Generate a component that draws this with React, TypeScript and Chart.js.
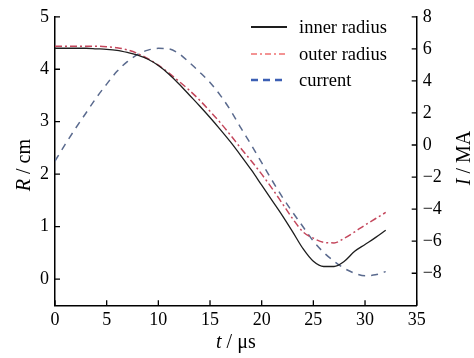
import React, { useEffect, useRef } from 'react';
import { Chart, registerables } from 'chart.js';

Chart.register(...registerables);

const timeUs = [0, 1, 2, 3, 4, 5, 6, 7, 8, 9, 10, 11, 12, 13, 14, 15, 16, 17, 18, 19, 20, 21, 22, 23, 24, 25, 26, 27, 28, 29, 30, 31, 32];
const innerRadius = [4.40, 4.40, 4.40, 4.40, 4.39, 4.38, 4.36, 4.32, 4.27, 4.19, 4.07, 3.91, 3.72, 3.51, 3.30, 3.08, 2.85, 2.61, 2.35, 2.08, 1.79, 1.50, 1.21, 0.90, 0.58, 0.34, 0.24, 0.24, 0.34, 0.53, 0.66, 0.79, 0.93];
const outerRadius = [4.44, 4.44, 4.44, 4.44, 4.44, 4.43, 4.41, 4.37, 4.30, 4.20, 4.08, 3.93, 3.77, 3.60, 3.41, 3.20, 2.98, 2.74, 2.49, 2.25, 2.00, 1.73, 1.44, 1.15, 0.90, 0.78, 0.70, 0.69, 0.78, 0.90, 1.03, 1.15, 1.27];
const currentMA = [-1.0, 0.05, 1.05, 2.0, 2.95, 3.8, 4.6, 5.2, 5.65, 5.92, 6.03, 6.0, 5.7, 5.15, 4.55, 3.9, 3.1, 2.15, 1.05, 0.0, -1.1, -2.2, -3.25, -4.2, -5.1, -6.0, -6.7, -7.25, -7.7, -8.0, -8.15, -8.1, -7.9];

const xTicks = [0, 5, 10, 15, 20, 25, 30, 35];
const rTicks = [0, 1, 2, 3, 4, 5];
const iTicks = [-8, -6, -4, -2, 0, 2, 4, 6, 8];
const legendLabels = ['inner radius', 'outer radius', 'current'];

const FONT = '"Liberation Serif", "Times New Roman", serif';
const FS = 18;
const TFS = 20;

function drawMixed(ctx: CanvasRenderingContext2D, parts: [string, boolean][], x: number, y: number) {
  let total = 0;
  const widths = parts.map(([t, it]) => {
    ctx.font = `${it ? 'italic ' : ''}${TFS}px ${FONT}`;
    const w = ctx.measureText(t).width;
    total += w;
    return w;
  });
  let cx = x - total / 2;
  parts.forEach(([t, it], i) => {
    ctx.font = `${it ? 'italic ' : ''}${TFS}px ${FONT}`;
    ctx.fillText(t, cx, y);
    cx += widths[i];
  });
}

const decor = {
  id: 'decor',
  afterDraw(chart: any) {
    const { ctx, chartArea: a, scales } = chart;
    ctx.save();
    ctx.strokeStyle = '#000';
    ctx.lineWidth = 1.3;
    const L = 5;
    ctx.beginPath();
    scales.x.ticks.forEach((t: any) => {
      const px = scales.x.getPixelForValue(t.value);
      ctx.moveTo(px, a.bottom);
      ctx.lineTo(px, a.bottom - L);
    });
    scales.y.ticks.forEach((t: any) => {
      const py = scales.y.getPixelForValue(t.value);
      ctx.moveTo(a.left, py);
      ctx.lineTo(a.left + L, py);
    });
    scales.y1.ticks.forEach((t: any) => {
      const py = scales.y1.getPixelForValue(t.value);
      ctx.moveTo(a.right, py);
      ctx.lineTo(a.right - L, py);
    });
    ctx.stroke();

    // axis titles
    ctx.fillStyle = '#000';
    ctx.textBaseline = 'alphabetic';
    ctx.textAlign = 'left';
    drawMixed(ctx, [['t', true], [' / μs', false]], (a.left + a.right) / 2, a.bottom + 43);
    ctx.save();
    ctx.translate(a.left - 25, (a.top + a.bottom) / 2 + 4);
    ctx.rotate(-Math.PI / 2);
    drawMixed(ctx, [['R', true], [' / cm', false]], 0, 0);
    ctx.restore();
    ctx.save();
    ctx.translate(a.right + 53, (a.top + a.bottom) / 2 - 3);
    ctx.rotate(-Math.PI / 2);
    drawMixed(ctx, [['I', true], [' / MA', false]], 0, 0);
    ctx.restore();

    // legend
    const styles = [
      { color: '#1e1e1e', width: 2.2, dash: [] as number[] },
      { color: '#f07070', width: 1.3, dash: [6, 3, 2, 3] },
      { color: '#3c5fb4', width: 2.6, dash: [7, 5] },
    ];
    const lx0 = 251, lx1 = 287, tx = 299;
    const rows = [27, 54, 80];
    legendLabels.forEach((lab, i) => {
      const s = styles[i];
      ctx.beginPath();
      ctx.strokeStyle = s.color;
      ctx.lineWidth = s.width;
      ctx.setLineDash(s.dash);
      ctx.moveTo(lx0, rows[i]);
      ctx.lineTo(lx1, rows[i]);
      ctx.stroke();
      ctx.setLineDash([]);
      ctx.fillStyle = '#000';
      ctx.font = `18.5px ${FONT}`;
      ctx.textBaseline = 'middle';
      ctx.fillText(lab, tx, rows[i] + 1);
    });
    ctx.restore();
  },
};

export default function App() {
  const ref = useRef<HTMLCanvasElement>(null);
  useEffect(() => {
    if (!ref.current) return;
    const mk = (arr: number[]) => arr.map((v, i) => ({ x: timeUs[i], y: v }));
    const tickFont = { family: FONT, size: FS };
    const chart = new Chart(ref.current, {
      type: 'line',
      data: {
        datasets: [
          {
            label: legendLabels[0],
            data: mk(innerRadius),
            yAxisID: 'y',
            borderColor: '#1e1e1e',
            borderWidth: 1.3,
            pointRadius: 0,
            cubicInterpolationMode: 'monotone',
          },
          {
            label: legendLabels[1],
            data: mk(outerRadius),
            yAxisID: 'y',
            borderColor: '#c4475c',
            borderWidth: 1.5,
            borderDash: [7, 3, 2, 3],
            pointRadius: 0,
            cubicInterpolationMode: 'monotone',
          },
          {
            label: legendLabels[2],
            data: mk(currentMA),
            yAxisID: 'y1',
            borderColor: '#5a6a8e',
            borderWidth: 1.5,
            borderDash: [7, 6],
            pointRadius: 0,
            cubicInterpolationMode: 'monotone',
          },
        ],
      },
      options: {
        animation: false,
        responsive: false,
        devicePixelRatio: 1,
        layout: { padding: { top: 13, left: 0, right: 0, bottom: 0 } },
        plugins: { legend: { display: false }, tooltip: { enabled: false } },
        scales: {
          x: {
            type: 'linear',
            min: 0,
            max: 35,
            afterBuildTicks: (s: any) => { s.ticks = xTicks.map((v) => ({ value: v })); },
            afterFit: (s: any) => { s.height = 52.7; },
            grid: { display: true, drawOnChartArea: false, drawTicks: false },
            border: { display: true, color: '#000', width: 1.5 },
            ticks: { color: '#000', font: tickFont, padding: 4, maxRotation: 0 },
          },
          y: {
            type: 'linear',
            position: 'left',
            min: -0.5,
            max: 5,
            afterBuildTicks: (s: any) => { s.ticks = rTicks.map((v) => ({ value: v })); },
            afterFit: (s: any) => { s.width = 55; },
            grid: { display: true, drawOnChartArea: false, drawTicks: false },
            border: { display: true, color: '#000', width: 1.5 },
            ticks: { color: '#000', font: tickFont, padding: 6 },
          },
          y1: {
            type: 'linear',
            position: 'right',
            min: -10,
            max: 8,
            afterBuildTicks: (s: any) => { s.ticks = iTicks.map((v) => ({ value: v })); },
            afterFit: (s: any) => { s.width = 57.3; },
            grid: { display: true, drawOnChartArea: false, drawTicks: false },
            border: { display: true, color: '#000', width: 1.5 },
            ticks: {
              color: '#000',
              font: tickFont,
              padding: 6,
              callback: (v: any) => String(v).replace('-', '\u2212'),
            },
          },
        },
      },
      plugins: [decor],
    } as any);
    return () => chart.destroy();
  }, []);
  return (
    <div style={{ position: 'absolute', left: 0, top: 0, width: 474, height: 358, background: '#fff' }}>
      <canvas ref={ref} width={474} height={358} />
    </div>
  );
}
